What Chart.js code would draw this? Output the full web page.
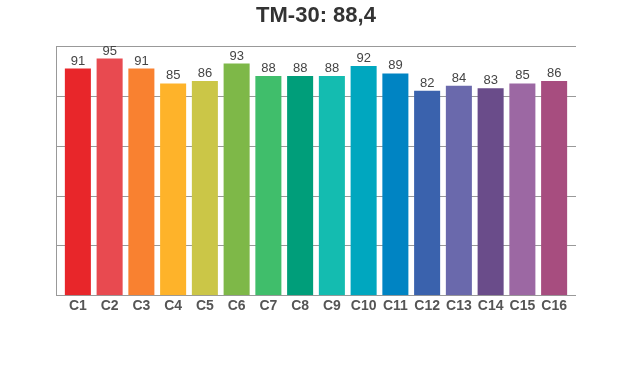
<!DOCTYPE html>
<html>
<head>
<meta charset="utf-8">
<script src="https://cdn.jsdelivr.net/npm/chart.js@4/dist/chart.umd.min.js"></script>
<style>
html,body{margin:0;padding:0;background:#fff;}
#wrap{width:620px;height:370px;position:relative;}
</style>
</head>
<body>
<div id="wrap"><canvas id="c" width="620" height="370"></canvas></div>
<script>
const titleText = "TM-30: 88,4";
const categories = ["C1","C2","C3","C4","C5","C6","C7","C8","C9","C10","C11","C12","C13","C14","C15","C16"];
const values = [91,95,91,85,86,93,88,88,88,92,89,82,84,83,85,86];
const barColors = ["#E8262A","#E84A50","#F98130","#FEB32A","#CBC647","#7EB848","#40BE6B","#009E7A","#14BCB0","#00A7BF","#0084C3","#3A62AD","#6A69AC","#6A4C8A","#9C68A3","#A74D7F"];
const yMin = 0, yMax = 100, yStep = 20;

const FRAME_EXT = 6;

const framePlugin = {
  id: 'frame',
  beforeDatasetsDraw(chart) {
    const ctx = chart.ctx;
    const a = chart.chartArea;
    const y = chart.scales.y;
    const left = a.left - FRAME_EXT, right = a.right + FRAME_EXT;
    ctx.save();
    ctx.strokeStyle = '#999';
    ctx.lineWidth = 1;
    y.ticks.forEach(t => {
      const py = Math.round(y.getPixelForValue(t.value)) + 0.5;
      ctx.beginPath();
      ctx.moveTo(left, py);
      ctx.lineTo(right, py);
      ctx.stroke();
    });
    ctx.beginPath();
    const lx = Math.round(left) + 0.5;
    ctx.moveTo(lx, Math.round(y.getPixelForValue(yMax)) + 0.5);
    ctx.lineTo(lx, Math.round(y.getPixelForValue(yMin)) + 0.5);
    ctx.stroke();
    ctx.restore();
  }
};

const labelPlugin = {
  id: 'valueLabels',
  afterDatasetsDraw(chart) {
    const ctx = chart.ctx;
    const meta = chart.getDatasetMeta(0);
    ctx.save();
    ctx.font = '13px "Liberation Sans", Arial, sans-serif';
    ctx.fillStyle = '#444';
    ctx.textAlign = 'center';
    ctx.textBaseline = 'bottom';
    meta.data.forEach((el, i) => {
      ctx.fillText(String(values[i]), el.x, el.y - 1);
    });
    ctx.restore();
  }
};
const titlePlugin = {
  id: 'topTitle',
  afterDraw(chart) {
    const ctx = chart.ctx;
    const a = chart.chartArea;
    ctx.save();
    ctx.font = 'bold 22px "Liberation Sans", Arial, sans-serif';
    ctx.fillStyle = '#333';
    ctx.textAlign = 'center';
    ctx.textBaseline = 'middle';
    ctx.fillText(titleText, (a.left + a.right) / 2, 16);
    ctx.restore();
  }
};

new Chart(document.getElementById('c'), {
  type: 'bar',
  data: {
    labels: categories,
    datasets: [{
      data: values,
      backgroundColor: barColors,
      borderWidth: 0,
      barPercentage: 0.82,
      categoryPercentage: 1.0
    }]
  },
  options: {
    responsive: false,
    animation: false,
    layout: { padding: { left: 62, right: 50, top: 46, bottom: 52 } },
    plugins: { legend: { display: false }, title: { display: false }, tooltip: { enabled: false } },
    scales: {
      x: {
        grid: { display: false, drawTicks: false },
        border: { display: false },
        ticks: {
          padding: 3,
          color: '#555',
          font: { family: '"Liberation Sans", Arial, sans-serif', size: 14, weight: 'bold' }
        }
      },
      y: {
        min: yMin, max: yMax,
        ticks: { display: false, stepSize: yStep },
        grid: { display: false, drawTicks: false },
        border: { display: false }
      }
    }
  },
  plugins: [framePlugin, labelPlugin, titlePlugin]
});
</script>
</body>
</html>
